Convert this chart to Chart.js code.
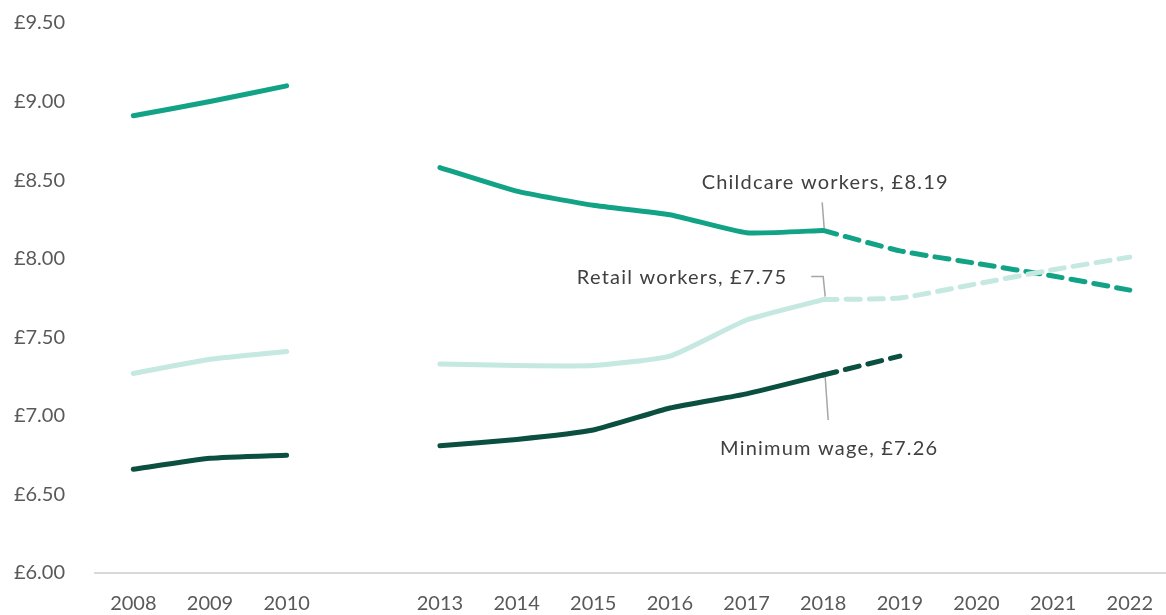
<!DOCTYPE html>
<html>
<head>
<meta charset="utf-8">
<script src="https://cdn.jsdelivr.net/npm/chart.js@4.4.1/dist/chart.umd.min.js"></script>
<style>
html,body{margin:0;padding:0;background:#fff;}
#wrap{width:1166px;height:615px;position:relative;overflow:hidden;}
#inner{position:absolute;left:0;top:-19px;width:1172px;height:634px;}
</style>
</head>
<body>
<div id="wrap"><div id="inner"><canvas id="c"></canvas></div></div>
<script>
const categories = ['2008','2009','2010','','2013','2014','2015','2016','2017','2018','2019','2020','2021','2022'];
const childcare        = [8.91, 9.00, 9.10, null, 8.58, 8.43, 8.34, 8.28, 8.165, 8.18, null, null, null, null];
const childcareProj    = [null, null, null, null, null, null, null, null, null, 8.18, 8.05, 7.97, 7.89, 7.80];
const retail           = [7.27, 7.36, 7.41, null, 7.33, 7.32, 7.32, 7.38, 7.61, 7.74, null, null, null, null];
const retailProj       = [null, null, null, null, null, null, null, null, null, 7.74, 7.75, 7.84, 7.93, 8.01];
const minWage          = [6.66, 6.73, 6.75, null, 6.81, 6.85, 6.91, 7.05, 7.14, 7.26, null, null, null, null];
const minWageProj      = [null, null, null, null, null, null, null, null, null, 7.26, 7.38, null, null, null];
const yTicks = [6.0, 6.5, 7.0, 7.5, 8.0, 8.5, 9.0, 9.5];
const labels = [
  {text:'Childcare workers, £8.19', idx:9, value:8.18},
  {text:'Retail workers, £7.75', idx:9, value:7.74},
  {text:'Minimum wage, £7.26', idx:9, value:7.26}
];

const C1 = '#12a386', C2 = '#c5e8e0', C3 = '#0b4f40';
const FONT = 'Lato, "Open Sans", sans-serif';

function ds(data, color, dashed){
  return {data, borderColor: color, backgroundColor: color, borderWidth: 5,
    borderDash: dashed ? [14, 9] : [], borderCapStyle: 'round', borderJoinStyle:'round',
    pointRadius: 0, pointHoverRadius: 0, tension: 0.15, spanGaps: false, fill:false};
}

const annot = {
  id: 'annot',
  afterDatasetsDraw(chart){
    const {ctx, scales:{x, y}} = chart;
    ctx.save();
    ctx.strokeStyle = '#a6a6a6';
    ctx.lineWidth = 1.5;
    ctx.fillStyle = '#404040';
    ctx.font = '20px ' + FONT;
    if ('letterSpacing' in ctx) ctx.letterSpacing = '1.2px';
    ctx.textBaseline = 'middle';
    // childcare
    let px = x.getPixelForValue(labels[0].idx), py = y.getPixelForValue(labels[0].value);
    ctx.beginPath(); ctx.moveTo(px+1, py-2); ctx.lineTo(px-1, py-28); ctx.stroke();
    ctx.textAlign = 'center';
    ctx.fillText(labels[0].text, px+2, py-48);
    // retail
    px = x.getPixelForValue(labels[1].idx); py = y.getPixelForValue(labels[1].value);
    ctx.beginPath(); ctx.moveTo(px+2, py-3); ctx.lineTo(px, py-23); ctx.lineTo(px-12, py-23); ctx.stroke();
    ctx.textAlign = 'right';
    ctx.fillText(labels[1].text, px-36, py-22);
    // min wage
    px = x.getPixelForValue(labels[2].idx); py = y.getPixelForValue(labels[2].value);
    ctx.beginPath(); ctx.moveTo(px+2, py+2); ctx.lineTo(px+5, py+45); ctx.stroke();
    ctx.textAlign = 'center';
    ctx.fillText(labels[2].text, px+6, py+74);
    ctx.restore();
  }
};

new Chart(document.getElementById('c'), {
  type: 'line',
  data: {
    labels: categories,
    datasets: [
      ds(retail, C2, false), ds(retailProj, C2, true),
      ds(childcare, C1, false), ds(childcareProj, C1, true),
      ds(minWage, C3, false), ds(minWageProj, C3, true)
    ]
  },
  options: {
    responsive: true, maintainAspectRatio: false, animation: false,
    layout: {padding: {top: 0, right: 0, left: 0, bottom: 0}},
    plugins: {legend: {display: false}, tooltip: {enabled: false}},
    scales: {
      x: {
        offset: true,
        grid: {display: false, drawTicks: false},
        border: {display: true, color: '#d9d9d9', width: 2},
        afterFit(axis){ axis.height = 38; },
        ticks: {color: '#595959', font: {family: FONT, size: 20}, padding: 19, maxRotation: 0, autoSkip: false}
      },
      y: {
        min: 6, max: 9.5,
        afterBuildTicks(axis){ axis.ticks = yTicks.map(v => ({value: v})); },
        afterFit(axis){ axis.width = 95; },
        grid: {display: false, drawTicks: false},
        border: {display: false},
        ticks: {color: '#595959', font: {family: FONT, size: 20}, padding: 30,
          callback: v => '£' + Number(v).toFixed(2)}
      }
    }
  },
  plugins: [annot]
});
</script>
</body>
</html>
